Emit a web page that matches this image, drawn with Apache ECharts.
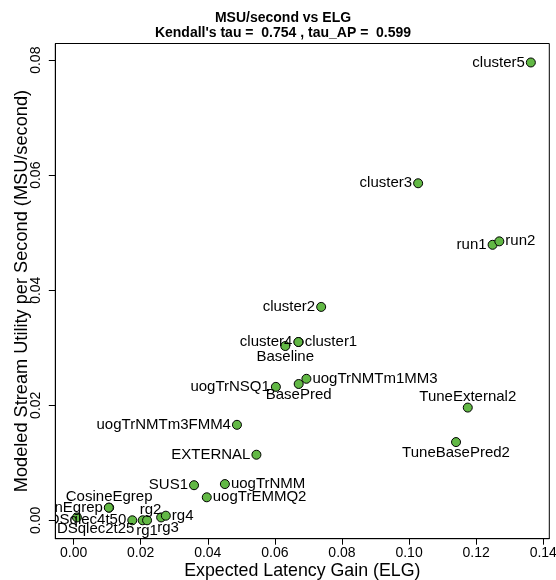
<!DOCTYPE html>
<html>
<head>
<meta charset="utf-8">
<script src="https://cdn.jsdelivr.net/npm/echarts@6/dist/echarts.min.js"></script>
<style>
html,body{margin:0;padding:0;background:#fff;}
#chart{width:556px;height:580px;}
</style>
</head>
<body>
<div id="chart"></div>
<script>
// ---- data ----
const runNames = ['cluster5','cluster3','run1','run2','TuneExternal2','TuneBasePred2','cluster2','cluster1','cluster4','Baseline',
  'uogTrNMTm1MM3','BasePred','uogTrNSQ1','uogTrNMTm3FMM4','EXTERNAL','SUS1','uogTrNMM','uogTrEMMQ2','CosineEgrep','CleanEgrep',
  'UWMDSqlec2t25','UWMDSqlec4t50','rg2','rg1','rg3','rg4'];
const elg = [0.1363,0.1027,0.1249,0.1269,0.1175,0.1140,0.0738,0.0671,0.0670,0.0631,
  0.0694,0.0671,0.0603,0.0487,0.0545,0.0359,0.0451,0.0397,0.0106,0.0105,
  0.0010,0.0175,0.0206,0.0219,0.0261,0.0275];
const msu = [0.0796,0.0586,0.0479,0.0485,0.0196,0.0136,0.0371,0.0310,0.0310,0.0303,
  0.0246,0.0237,0.0232,0.0166,0.0114,0.0061,0.0063,0.0040,0.0022,0.0022,
  0.0005,0.0000,0.0000,0.0000,0.0005,0.0008];
// label side for each run (style)
const labelSide = ['left','left','left','right','top','bottom','left','right','left','bottom',
  'right','bottom','left','left','left','left','right','right','top','left',
  'bottom','left','topright','bottom','bottomright','right'];
const xTicks = [0,0.02,0.04,0.06,0.08,0.10,0.12,0.14];
const yTicks = [0,0.02,0.04,0.06,0.08];
const titleText = "MSU/second vs ELG\nKendall's tau =  0.754 , tau_AP =  0.599";
const xTitle = 'Expected Latency Gain (ELG)';
const yTitle = 'Modeled Stream Utility per Second (MSU/second)';

const FONT = '"Liberation Sans", Arial, Helvetica, sans-serif';
const points = elg.map((x, i) => [x, msu[i], i]);

const chart = echarts.init(document.getElementById('chart'), null, {renderer: 'canvas'});

function renderLabel(params, api) {
  const i = api.value(2);
  const p = api.coord([api.value(0), api.value(1)]);
  const side = labelSide[i];
  let x = p[0], y = p[1], align = 'center';
  const gap = 6;
  if (side === 'left') { x -= gap; align = 'right'; }
  else if (side === 'right') { x += gap; align = 'left'; }
  else if (side === 'top') { y -= 10.5; }
  else if (side === 'bottom') { y += 11; }
  else if (side === 'topright') { x -= 3; y -= 10.5; align = 'left'; }
  else if (side === 'bottomright') { x -= 4; y += 10.5; align = 'left'; }
  return {
    type: 'text',
    x: x, y: y,
    style: {
      text: runNames[i],
      fill: '#000',
      font: '15px ' + FONT,
      align: align,
      verticalAlign: 'middle'
    }
  };
}

chart.setOption({
  animation: false,
  backgroundColor: '#fff',
  textStyle: {fontFamily: FONT},
  title: {
    text: titleText,
    left: 283,
    top: 10.8,
    padding: 0,
    textAlign: 'center',
    textStyle: {fontFamily: FONT, fontSize: 14, fontWeight: 'bold', color: '#000', lineHeight: 15}
  },
  grid: {
    left: 55.3, top: 43.5, width: 494, height: 495.2,
    show: true, borderColor: '#000', borderWidth: 1,
    containLabel: false, outerBoundsMode: 'none'
  },
  xAxis: {
    type: 'value',
    min: -0.00545, max: 0.1418,
    name: xTitle,
    nameLocation: 'middle',
    nameGap: 23.5,
    nameMoveOverlap: false,
    nameTextStyle: {fontFamily: FONT, fontSize: 17.8, color: '#000'},
    axisLine: {show: true, onZero: false, lineStyle: {color: '#000', width: 1}},
    axisTick: {show: true, length: 6, lineStyle: {color: '#000'}, customValues: xTicks},
    axisLabel: {show: true, margin: 7.6, fontSize: 14, color: '#000', fontFamily: FONT,
      customValues: xTicks, formatter: v => v.toFixed(2), showMinLabel: true, showMaxLabel: true},
    splitLine: {show: false}
  },
  yAxis: {
    type: 'value',
    min: -0.0032, max: 0.0829,
    name: yTitle,
    nameLocation: 'middle',
    nameGap: 24.5,
    nameMoveOverlap: false,
    nameTextStyle: {fontFamily: FONT, fontSize: 18.2, color: '#000'},
    axisLine: {show: true, onZero: false, lineStyle: {color: '#000', width: 1}},
    axisTick: {show: true, length: 6.5, lineStyle: {color: '#000'}, customValues: yTicks},
    axisLabel: {show: true, margin: 12.5, fontSize: 14, color: '#000', fontFamily: FONT, rotate: 90,
      customValues: yTicks, formatter: v => v.toFixed(2), showMinLabel: true, showMaxLabel: true},
    splitLine: {show: false}
  },
  series: [
    {
      type: 'scatter',
      data: points,
      symbol: 'circle',
      symbolSize: 9,
      itemStyle: {color: '#62b845', borderColor: '#000', borderWidth: 1, opacity: 1},
      clip: false,
      z: 2
    },
    {
      type: 'custom',
      data: points,
      renderItem: renderLabel,
      clip: true,
      silent: true,
      z: 3
    }
  ]
});
</script>
</body>
</html>
